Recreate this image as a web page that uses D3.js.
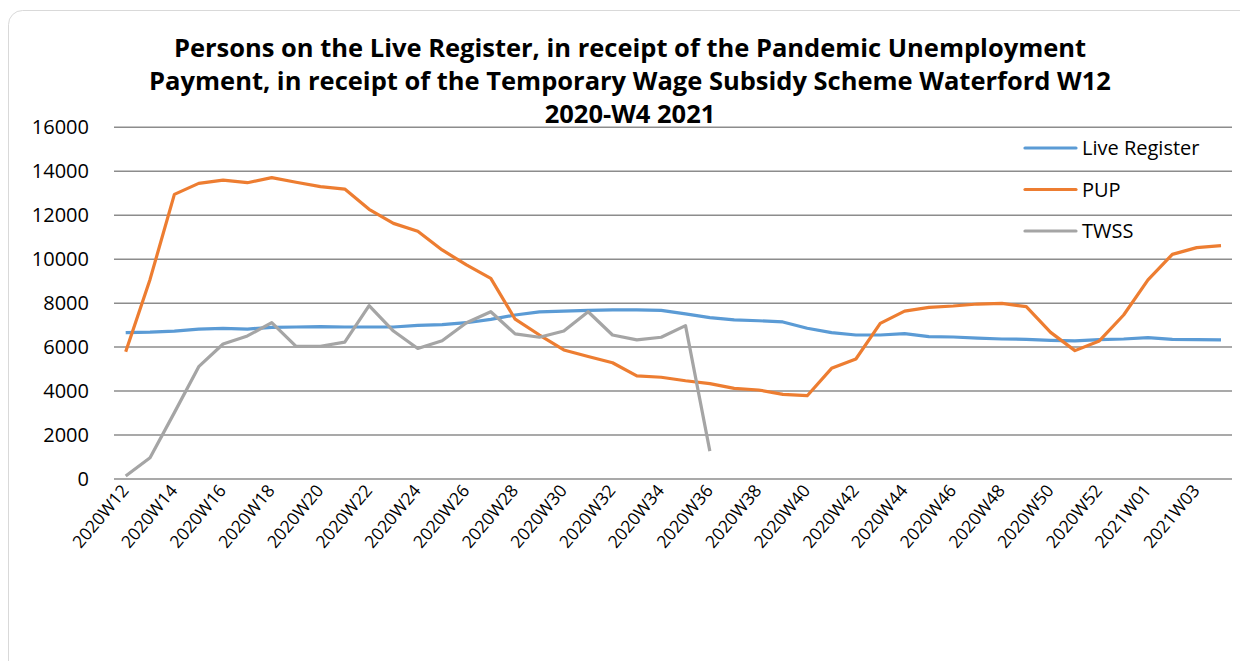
<!DOCTYPE html>
<meta charset="utf-8">
<style>
  body { margin: 0; background: #fff; }
  svg { font-family: "Century Gothic", "Open Sans", sans-serif; }
</style>
<script src="https://d3js.org/d3.v7.min.js"></script>
<svg id="chart" width="1240" height="661"></svg>
<script>

// weeks 2020W12 .. 2021W04
var weeks = [];
for (var w = 12; w <= 53; w++) weeks.push("2020W" + w);
for (var w = 1; w <= 4; w++) weeks.push("2021W0" + w);

var liveRegister = [6660, 6680, 6730, 6820, 6850, 6820, 6900, 6915, 6930, 6915, 6915, 6915, 6990,
  7020, 7110, 7260, 7460, 7600, 7640, 7670, 7690, 7690, 7670, 7510, 7340,
  7235, 7200, 7145, 6860, 6660, 6550, 6550, 6610, 6480, 6460, 6410,
  6370, 6355, 6310, 6280, 6340, 6370, 6430, 6355, 6340, 6325];

var pup = [5790, 9080, 12950, 13450, 13600, 13480, 13710, 13500, 13300, 13190, 12270, 11630, 11270,
  10420, 9740, 9130, 7270, 6550, 5870, 5570, 5290, 4690, 4630, 4470, 4340,
  4125, 4050, 3850, 3790, 5035, 5460, 7080, 7640, 7810, 7870, 7960,
  7990, 7840, 6670, 5840, 6280, 7460, 9055, 10220, 10525, 10615];

var twss = [140, 970, 3020, 5110, 6140, 6510, 7110, 6030, 6040, 6230, 7890, 6730, 5940,
  6290, 7110, 7610, 6600, 6450, 6730, 7610, 6550, 6330, 6450, 6980, 1270];

var yTicks = [0, 2000, 4000, 6000, 8000, 10000, 12000, 14000, 16000];

var series = [
  { name: "Live Register", values: liveRegister, color: "#5b9bd5" },
  { name: "PUP", values: pup, color: "#ed7d31" },
  { name: "TWSS", values: twss, color: "#a5a5a5" }
];

var svg = d3.select("#chart");

// outer frame
svg.append("rect")
  .attr("x", 8.5).attr("y", 10.5)
  .attr("width", 1260).attr("height", 680)
  .attr("rx", 14)
  .attr("fill", "#fff")
  .attr("stroke", "#d9d9d9");

var x = d3.scalePoint().domain(weeks).range([125.7, 1221]);
var y = d3.scaleLinear().domain([0, 16000]).range([479, 127.3]);

// gridlines
svg.append("g")
  .selectAll("line")
  .data(yTicks)
  .join("line")
    .attr("x1", 114).attr("x2", 1232)
    .attr("y1", d => y(d)).attr("y2", d => y(d))
    .attr("stroke", "#8c8c8c")
    .attr("stroke-width", 1.5);

// y labels
svg.append("g")
  .selectAll("text")
  .data(yTicks)
  .join("text")
    .attr("x", 89)
    .attr("y", d => y(d))
    .attr("dy", "0.35em")
    .attr("text-anchor", "end")
    .attr("font-size", 20)
    .attr("fill", "#000")
    .text(d => d);

// x labels, every other week
svg.append("g")
  .selectAll("text")
  .data(weeks.filter((d, i) => i % 2 === 0))
  .join("text")
    .attr("transform", d => "translate(" + (x(d) + 4) + ",491) rotate(-50)")
    .attr("text-anchor", "end")
    .attr("font-size", 17.5)
    .attr("fill", "#000")
    .text(d => d);

// lines
var line = d3.line()
  .x((d, i) => x(weeks[i]))
  .y(d => y(d));

svg.append("g")
  .selectAll("path")
  .data(series)
  .join("path")
    .attr("d", d => line(d.values))
    .attr("fill", "none")
    .attr("stroke", d => d.color)
    .attr("stroke-width", 3.2)
    .attr("stroke-linejoin", "round");

// legend
var legend = svg.append("g")
  .selectAll("g")
  .data(series)
  .join("g")
    .attr("transform", (d, i) => "translate(1025," + (148 + i * 41.5) + ")");

legend.append("line")
  .attr("x1", 0).attr("x2", 51)
  .attr("stroke", d => d.color)
  .attr("stroke-width", 3.2)
  .attr("stroke-linecap", "round");

legend.append("text")
  .attr("x", 57)
  .attr("dy", "0.35em")
  .attr("font-size", 20)
  .attr("fill", "#000")
  .text(d => d.name);

// title
var title = [
  "Persons on the Live Register, in receipt of the Pandemic Unemployment",
  "Payment, in receipt of the Temporary Wage Subsidy Scheme Waterford W12",
  "2020-W4 2021"
];
svg.append("g")
  .selectAll("text")
  .data(title)
  .join("text")
    .attr("x", 630)
    .attr("y", (d, i) => 57 + i * 33)
    .attr("text-anchor", "middle")
    .attr("font-size", 25.5)
    .attr("font-weight", "bold")
    .attr("fill", "#000")
    .text(d => d);

</script>
